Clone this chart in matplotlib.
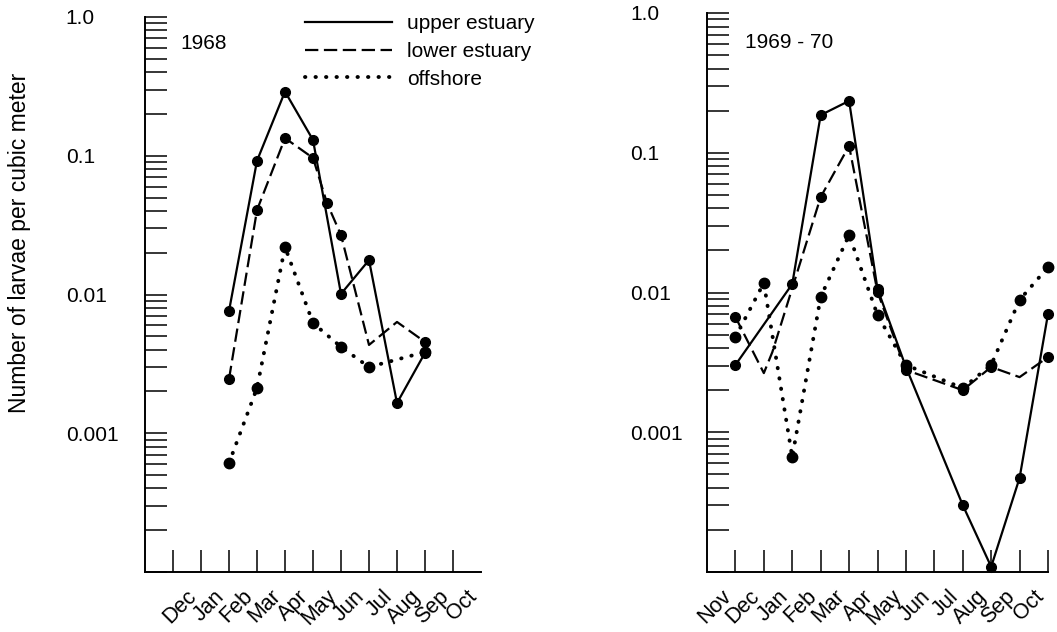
import numpy as np
import matplotlib.pyplot as plt
from matplotlib.lines import Line2D
from matplotlib.ticker import LogLocator, FixedLocator, NullFormatter

plt.rcParams['font.family'] = ['Liberation Sans', 'DejaVu Sans']

months = ['Nov', 'Dec', 'Jan', 'Feb', 'Mar', 'Apr', 'May', 'Jun', 'Jul', 'Aug', 'Sep', 'Oct']

# 1968 (x = month index, Nov = 0)
x68_upper = [2, 3, 4, 5, 6, 7, 8, 9]
upper68 = [0.0076, 0.092, 0.29, 0.13, 0.0101, 0.0177, 0.00165, 0.0038]
x68_lower = [2, 3, 4, 5, 5.5, 6, 7, 8, 9]
lower68 = [0.00246, 0.0406, 0.134, 0.0964, 0.0456, 0.0268, 0.00433, 0.00634, 0.00455]
x68_off = [2, 3, 4, 5, 6, 7, 9]
off68 = [0.00061, 0.00212, 0.022, 0.00623, 0.00419, 0.0030, 0.00385]

# 1969 - 70
x69_upper = [0, 2, 3, 4, 5, 6, 8, 9, 10, 11]
upper69 = [0.00303, 0.0115, 0.186, 0.235, 0.0106, 0.00293, 0.000301, 0.000109, 0.000471, 0.00702]
x69_lower = [0, 1, 1.3, 3, 4, 5, 6, 8, 9, 10, 11]
lower69 = [0.00668, 0.00265, 0.00375, 0.0482, 0.112, 0.0101, 0.00279, 0.0020, 0.00293, 0.00248, 0.00345]
x69_off = [0, 1, 2, 3, 4, 5, 6, 8, 9, 10, 11]
off69 = [0.00481, 0.0117, 0.000665, 0.00929, 0.0258, 0.0069, 0.00303, 0.00207, 0.00303, 0.00884, 0.0152]

ylabels = ['0.001', '0.01', '0.1', '1.0']
yvals = [1e-3, 1e-2, 1e-1, 1.0]

solid = dict(color='black', lw=1.6, ls='-', marker='o', ms=7)
dashed = dict(color='black', lw=1.6, ls=(0, (6, 2.5)), marker='o', ms=7)
dotted = dict(color='black', lw=2.8, ls=(0, (0.1, 2.6)), dash_capstyle='round',
              marker='o', ms=7.5)

fig = plt.figure(figsize=(10.57, 6.32), dpi=100)
ax1 = fig.add_axes([145/1057, 1 - 572/632, 336/1057, 555/632])
ax2 = fig.add_axes([707/1057, 1 - 572/632, 341/1057, 559/632])


def style(ax, ticks, labels, pad):
    ax.set_yscale('log')
    ax.set_ylim(1e-4, 1)
    ax.set_xlim(-1, 11)
    for s in ['top', 'right']:
        ax.spines[s].set_visible(False)
    for s in ['left', 'bottom']:
        ax.spines[s].set_linewidth(1.4)
    ax.yaxis.set_major_locator(FixedLocator(yvals + [1e-4]))
    ax.set_yticklabels(ylabels + [''])
    ax.yaxis.set_minor_locator(LogLocator(base=10, subs=np.arange(2, 10)))
    ax.yaxis.set_minor_formatter(NullFormatter())
    ax.tick_params(axis='y', which='both', direction='in', length=16, width=1.1,
                   pad=pad, labelsize=15)
    for t in ax.get_yticklabels():
        t.set_ha('left')
    ax.set_xticks(ticks)
    ax.set_xticklabels(labels, rotation=45, ha='right')
    ax.tick_params(axis='x', direction='in', length=16, width=1.1, pad=10, labelsize=15.5)
    ax.tick_params(axis='x', which='minor', bottom=False)


style(ax1, list(range(12)), [''] + months[1:], 57)
ax1.xaxis.get_major_ticks()[-1].tick1line.set_visible(False)
style(ax2, list(range(12)), months, 55)

ax1.plot(x68_upper, upper68, **solid)
ax1.plot(x68_lower, lower68, markevery=[0, 1, 2, 3, 4, 5, 8], **dashed)
ax1.plot(x68_off, off68, **dotted)

ax2.plot(x69_upper, upper69, **solid)
ax2.plot(x69_lower, lower69, markevery=[0, 3, 4, 5, 6, 7, 8, 10], **dashed)
ax2.plot(x69_off, off69, **dotted)

for ax in (ax1, ax2):
    for ln in ax.get_lines():
        ln.set_clip_on(False)

ax1.text(0.104, 0.953, '1968', transform=ax1.transAxes, fontsize=15, va='center', ha='left')
ax2.text(0.111, 0.948, '1969 - 70', transform=ax2.transAxes, fontsize=15, va='center', ha='left')

handles = [Line2D([], [], color='black', lw=1.6, ls='-'),
           Line2D([], [], color='black', lw=1.6, ls=(0, (6, 2.5))),
           Line2D([], [], color='black', lw=2.8, ls=(0, (0.1, 2.6)), dash_capstyle='round')]
ax1.legend(handles, ['upper estuary', 'lower estuary', 'offshore'],
           loc='upper left', bbox_to_anchor=(0.476, 1.005), frameon=False,
           fontsize=15, handlelength=4.2, handletextpad=0.7, labelspacing=0.42,
           borderpad=0, borderaxespad=0)

fig.text(20/1057, 1 - 243/632, 'Number of larvae per cubic meter', rotation=90,
         ha='center', va='center', fontsize=16.5)

fig.savefig('out.png', dpi=100)
